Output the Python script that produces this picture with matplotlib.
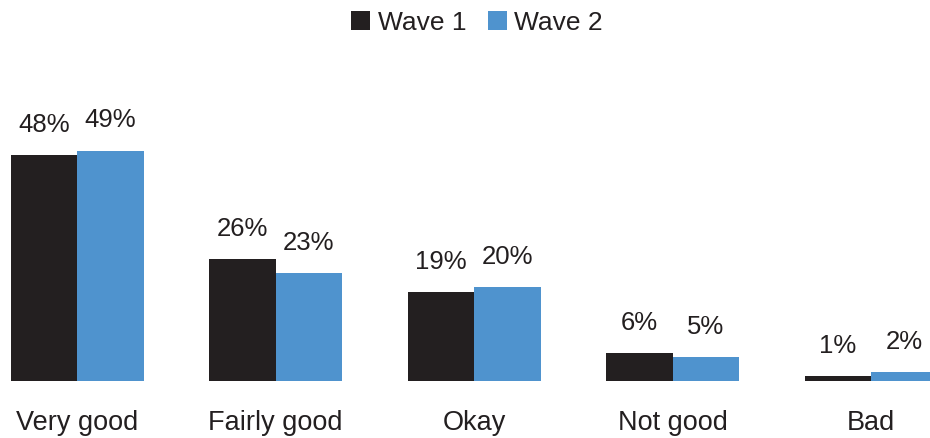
import matplotlib.pyplot as plt
import numpy as np

plt.rcParams['font.family'] = ['Liberation Sans', 'DejaVu Sans']

categories = ['Very good', 'Fairly good', 'Okay', 'Not good', 'Bad']
wave1 = [48, 26, 19, 6, 1]
wave2 = [49, 23, 20, 5, 2]
series_names = ['Wave 1', 'Wave 2']
colors = ['#231F20', '#4F93CE']
text_color = '#231F20'

fig = plt.figure(figsize=(9.30, 4.38), dpi=100)
ax = fig.add_axes([0, 57 / 438, 1, 381 / 438])

x = np.arange(len(categories))
w = 0.335
b1 = ax.bar(x - w / 2, wave1, w, color=colors[0], label=series_names[0])
b2 = ax.bar(x + w / 2, wave2, w, color=colors[1], label=series_names[1])

# value labels above each bar
for bars, vals in [(b1, wave1), (b2, wave2)]:
    for rect, v in zip(bars, vals):
        ax.annotate(f'{v}%', (rect.get_x() + rect.get_width() / 2, v),
                    xytext=(0, 13), textcoords='offset points',
                    ha='center', va='bottom', fontsize=18.5, color=text_color)

ax.set_xlim(-0.388, 4.297)
ax.set_ylim(0, 81)
ax.axis('off')

# category names under the groups
for i, c in enumerate(categories):
    ax.annotate(c, (i, 0), xytext=(0, -21), textcoords='offset points',
                ha='center', va='top', fontsize=19.5, color=text_color)

fig.legend(handles=[b1, b2], loc='upper center', bbox_to_anchor=(0.513, 1.03),
           ncol=2, frameon=False, fontsize=19, handlelength=0.72, handleheight=0.72,
           handletextpad=0.3, columnspacing=0.8, labelcolor=text_color)

fig.savefig('out.png', dpi=100)
